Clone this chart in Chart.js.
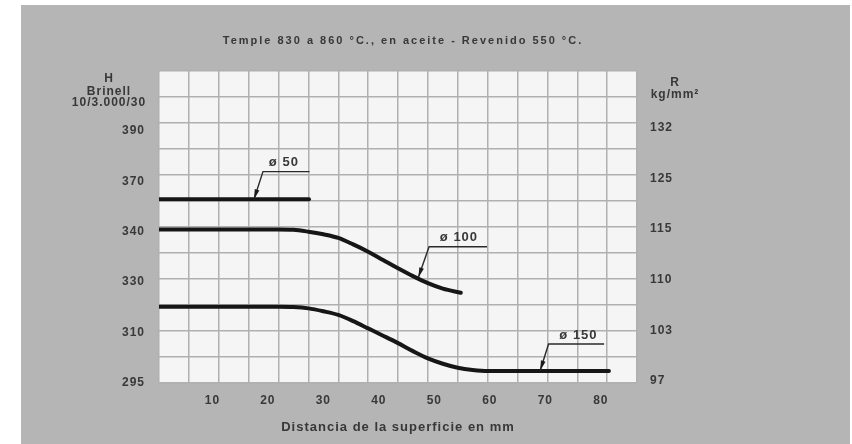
<!DOCTYPE html>
<html>
<head>
<meta charset="utf-8">
<script src="https://cdn.jsdelivr.net/npm/chart.js"></script>
<style>
  html, body { margin: 0; padding: 0; background: #fff; }
  #wrap { position: relative; width: 852px; height: 444px; }
  #sheet { position: absolute; left: 21px; top: 5px; width: 829px; height: 439px; background: #b5b5b5; }
  #myChart { position: absolute; left: 0; top: 0; }
</style>
</head>
<body>
<div id="wrap"><div id="sheet"></div><canvas id="myChart" width="852" height="444"></canvas></div>
<script>
// tick labels (the printed scales are not linear, labels sit evenly spaced)
const brinellTicks = [295, 310, 330, 340, 370, 390];
const strengthTicks = [97, 103, 110, 115, 125, 132];
const distTicks = [10, 20, 30, 40, 50, 60, 70, 80];

// curves, hardness Brinell vs distance from surface (mm)
const dist50 = [0, 5, 10, 15, 20, 25.1];
const hb50 = [356, 356, 356, 356, 356, 356];

const dist100 = [0, 5, 10, 15, 20, 22.5, 25, 27.5, 30, 32.5, 35, 37.5, 40, 42.5, 45, 47.5, 50.5];
const hb100 = [339.5, 339.5, 339.5, 339.5, 339.5, 339.45, 339.1, 338.6, 337.9, 336.65, 335.25, 333.65, 332.05, 330.55, 328.4, 326.3, 324.7];

const dist150 = [0, 5, 10, 15, 20, 22.5, 25, 27.5, 30, 32.5, 35, 37.5, 40, 42.5, 45, 47.5, 50, 52.5, 55, 60, 65, 70, 75.3];
const hb150 = [319.3, 319.3, 319.3, 319.3, 319.3, 319.2, 318.7, 317.6, 316.2, 313.8, 311, 308.65, 306.5, 304.2, 302.1, 300.55, 299.4, 298.75, 298.45, 298.45, 298.45, 298.45, 298.45];

// diameter tags with leader lines
const tagLabels = ['ø 50', 'ø 100', 'ø 150'];
const tagTipDist = [15.9, 43.4, 63.8];
const tagTipHB = [356, 330.3, 298.6];
const tagLeaderStart = [17.4, 45.2, 65.2];
const tagLeaderEnd = [25.2, 54.9, 74.5];
const tagLeaderHB = [371.3, 336.2, 306.25];
const tagTextDist = [20.9, 50.2, 70.2];
const tagTextHB = [375, 338, 308.8];

const chartTitle = 'Temple 830 a 860 °C., en aceite - Revenido 550 °C.';

// map a Brinell value onto the evenly spaced printed scale (2 grid rows per label)
function hbToPos(hb) {
    let i = 0;
    while (i < brinellTicks.length - 2 && hb > brinellTicks[i + 1]) i++;
    return 2 * i + 2 * (hb - brinellTicks[i]) / (brinellTicks[i + 1] - brinellTicks[i]);
}

function points(xs, ys) {
    return xs.map((x, i) => ({ x: x, y: hbToPos(ys[i]) }));
}

const inkColor = '#161616';
const textColor = '#383838';
const gridColor = '#b0b0b0';
const fontFamily = '"Liberation Sans", Arial, sans-serif';

function curve(xs, ys) {
    return {
        data: points(xs, ys),
        borderColor: inkColor,
        borderWidth: 4,
        pointRadius: 0,
        cubicInterpolationMode: 'monotone',
        borderCapStyle: 'round',
        xAxisID: 'x',
        yAxisID: 'y'
    };
}

const paperPlugin = {
    id: 'paper',
    beforeDraw(chart) {
        const a = chart.chartArea;
        const ctx = chart.ctx;
        ctx.save();
        ctx.fillStyle = '#f5f5f5';
        ctx.fillRect(a.left, a.top, a.right - a.left, a.bottom - a.top);
        ctx.restore();
        // the printed lettering is widely spaced
        ctx.letterSpacing = '1px';
    }
};

const tagsPlugin = {
    id: 'tags',
    afterDatasetsDraw(chart) {
        const ctx = chart.ctx;
        const xs = chart.scales.x;
        const ys = chart.scales.y;
        const a = chart.chartArea;
        ctx.save();
        tagLabels.forEach((label, i) => {
            const tx = xs.getPixelForValue(tagTipDist[i]);
            const ty = ys.getPixelForValue(hbToPos(tagTipHB[i]));
            const ex = xs.getPixelForValue(tagLeaderStart[i]);
            const ey = ys.getPixelForValue(hbToPos(tagLeaderHB[i]));
            const rx = xs.getPixelForValue(tagLeaderEnd[i]);
            ctx.strokeStyle = '#2a2a2a';
            ctx.lineWidth = 1.4;
            ctx.beginPath();
            ctx.moveTo(rx, ey);
            ctx.lineTo(ex, ey);
            ctx.lineTo(tx, ty);
            ctx.stroke();
            // arrow head
            const ang = Math.atan2(ty - ey, tx - ex);
            const len = 10, half = 2.4;
            ctx.fillStyle = '#1a1a1a';
            ctx.beginPath();
            ctx.moveTo(tx, ty);
            ctx.lineTo(tx - len * Math.cos(ang) - half * Math.sin(ang), ty - len * Math.sin(ang) + half * Math.cos(ang));
            ctx.lineTo(tx - len * Math.cos(ang) + half * Math.sin(ang), ty - len * Math.sin(ang) - half * Math.cos(ang));
            ctx.closePath();
            ctx.fill();
            ctx.fillStyle = textColor;
            ctx.font = 'bold 13px ' + fontFamily;
            ctx.letterSpacing = '1px';
            ctx.textAlign = 'center';
            ctx.textBaseline = 'middle';
            ctx.fillText(label, xs.getPixelForValue(tagTextDist[i]), ys.getPixelForValue(hbToPos(tagTextHB[i])));
        });
        // axis headings
        ctx.fillStyle = textColor;
        ctx.font = 'bold 12px ' + fontFamily;
        ctx.letterSpacing = '1px';
        ctx.textAlign = 'center';
        ctx.textBaseline = 'middle';
        const lx = a.left - 50;
        ctx.fillText('H', lx, a.top + 8);
        ctx.fillText('Brinell', lx, a.top + 20.5);
        ctx.fillText('10/3.000/30', lx, a.top + 32);
        const rxh = a.right + 38;
        ctx.fillText('R', rxh, a.top + 12);
        ctx.fillText('kg/mm²', rxh, a.top + 24);
        // chart heading, centred over the grid
        ctx.font = 'bold 11px ' + fontFamily;
        ctx.letterSpacing = '2px';
        ctx.fillText(chartTitle, (a.left + a.right) / 2 + 5, a.top - 30);
        ctx.restore();
    }
};

const tickFont = { family: fontFamily, size: 12, weight: 'bold' };

const config = {
    type: 'line',
    data: {
        datasets: [curve(dist50, hb50), curve(dist100, hb100), curve(dist150, hb150)]
    },
    options: {
        responsive: false,
        animation: false,
        layout: { padding: { top: 71 } },
        plugins: {
            legend: { display: false },
            tooltip: { enabled: false },
            title: { display: false }
        },
        scales: {
            x: {
                type: 'linear',
                position: 'bottom',
                min: 0,
                max: 80,
                ticks: { display: false, stepSize: 5 },
                grid: { color: gridColor, lineWidth: 1.5, drawTicks: false },
                border: { display: false },
                afterFit: (s) => { s.height = 0; }
            },
            xl: {
                type: 'linear',
                position: 'bottom',
                min: 0.38,
                max: 86.52,
                afterBuildTicks: (s) => { s.ticks = distTicks.map(v => ({ value: v })); },
                ticks: { autoSkip: false, maxRotation: 0, padding: 10, color: textColor, font: tickFont },
                grid: { display: false, drawTicks: false },
                border: { display: false },
                title: {
                    display: true,
                    text: 'Distancia de la superficie en mm',
                    color: textColor,
                    font: { family: fontFamily, size: 13, weight: 'bold' },
                    padding: { top: 0, bottom: 9 }
                },
                afterFit: (s) => { s.height = 61; }
            },
            y: {
                type: 'linear',
                position: 'left',
                min: 0,
                max: 12,
                ticks: { display: false, stepSize: 1 },
                grid: { color: gridColor, lineWidth: 1.5, drawTicks: false },
                border: { display: false },
                afterFit: (s) => { s.width = 0; }
            },
            yl: {
                type: 'linear',
                position: 'left',
                min: 0,
                max: 12.37,
                afterBuildTicks: (s) => { s.ticks = brinellTicks.map((v, i) => ({ value: 2 * i })); },
                ticks: {
                    autoSkip: false,
                    padding: 14,
                    color: textColor,
                    font: tickFont,
                    callback: (v) => brinellTicks[Math.round(v / 2)]
                },
                grid: { display: false, drawTicks: false },
                border: { display: false },
                afterFit: (s) => { s.width = 159; }
            },
            yr: {
                type: 'linear',
                position: 'right',
                min: -0.08,
                max: 12.25,
                afterBuildTicks: (s) => { s.ticks = strengthTicks.map((v, i) => ({ value: 2 * i })); },
                ticks: {
                    autoSkip: false,
                    padding: 13,
                    color: textColor,
                    font: tickFont,
                    callback: (v) => strengthTicks[Math.round(v / 2)]
                },
                grid: { display: false, drawTicks: false },
                border: { display: false },
                afterFit: (s) => { s.width = 215; }
            }
        }
    },
    plugins: [paperPlugin, tagsPlugin]
};

const ctx = document.getElementById('myChart').getContext('2d');
const myChart = new Chart(ctx, config);
</script>
</body>
</html>
